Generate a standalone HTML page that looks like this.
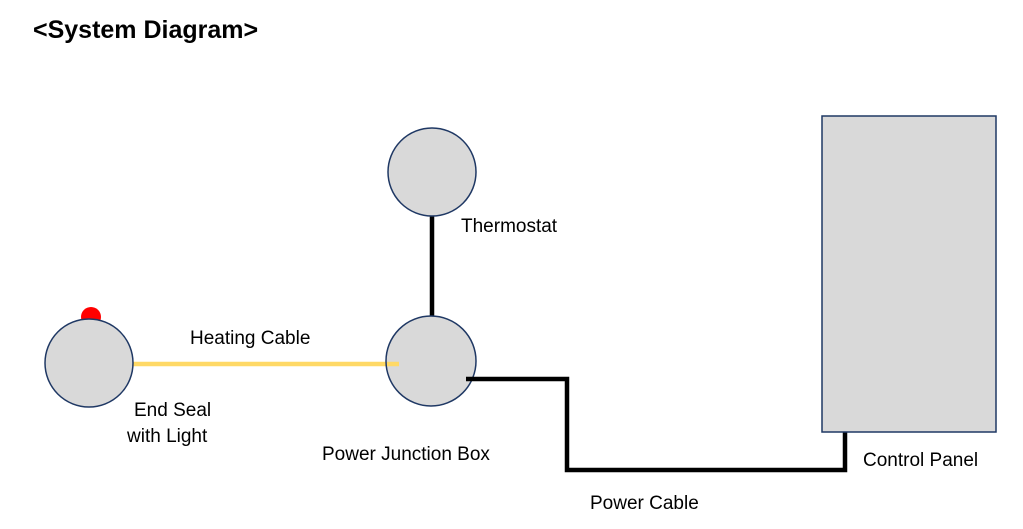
<!DOCTYPE html>
<html><head><style>
html,body{margin:0;padding:0;background:#fff;width:1023px;height:529px;overflow:hidden}
</style></head><body>
<svg width="1023" height="529" xmlns="http://www.w3.org/2000/svg" font-family="Liberation Sans, sans-serif">
<text x="33" y="38" font-size="25" font-weight="bold" fill="#000">&lt;System Diagram&gt;</text>
<circle cx="91" cy="317" r="10" fill="#f00"/>
<line x1="132" y1="364" x2="398" y2="364" stroke="#FFD966" stroke-width="4.5"/>
<circle cx="89" cy="363" r="44" fill="#d9d9d9" stroke="#1f3864" stroke-width="1.5"/>
<line x1="432" y1="214" x2="432" y2="318" stroke="#000" stroke-width="4.5"/>
<circle cx="432" cy="172" r="44" fill="#d9d9d9" stroke="#1f3864" stroke-width="1.5"/>
<circle cx="431" cy="361" r="45" fill="#d9d9d9" stroke="#1f3864" stroke-width="1.5"/>
<line x1="398" y1="364" x2="398" y2="364" stroke="#FFD966" stroke-width="4.5"/>
<line x1="387" y1="364" x2="399" y2="364" stroke="#FFD966" stroke-width="4.5"/>
<polyline points="466,379 567,379 567,470 845,470 845,432" fill="none" stroke="#000" stroke-width="4.5"/>
<rect x="822" y="116" width="174" height="316" fill="#d9d9d9" stroke="#1f3864" stroke-width="1.5"/>
<g font-size="19" fill="#000">
<text x="461" y="232">Thermostat</text>
<text x="190" y="344">Heating Cable</text>
<text x="134" y="416">End Seal</text>
<text x="127" y="442">with Light</text>
<text x="322" y="460">Power Junction Box</text>
<text x="863" y="466">Control Panel</text>
<text x="590" y="509">Power Cable</text>
</g>
</svg>
</body></html>
